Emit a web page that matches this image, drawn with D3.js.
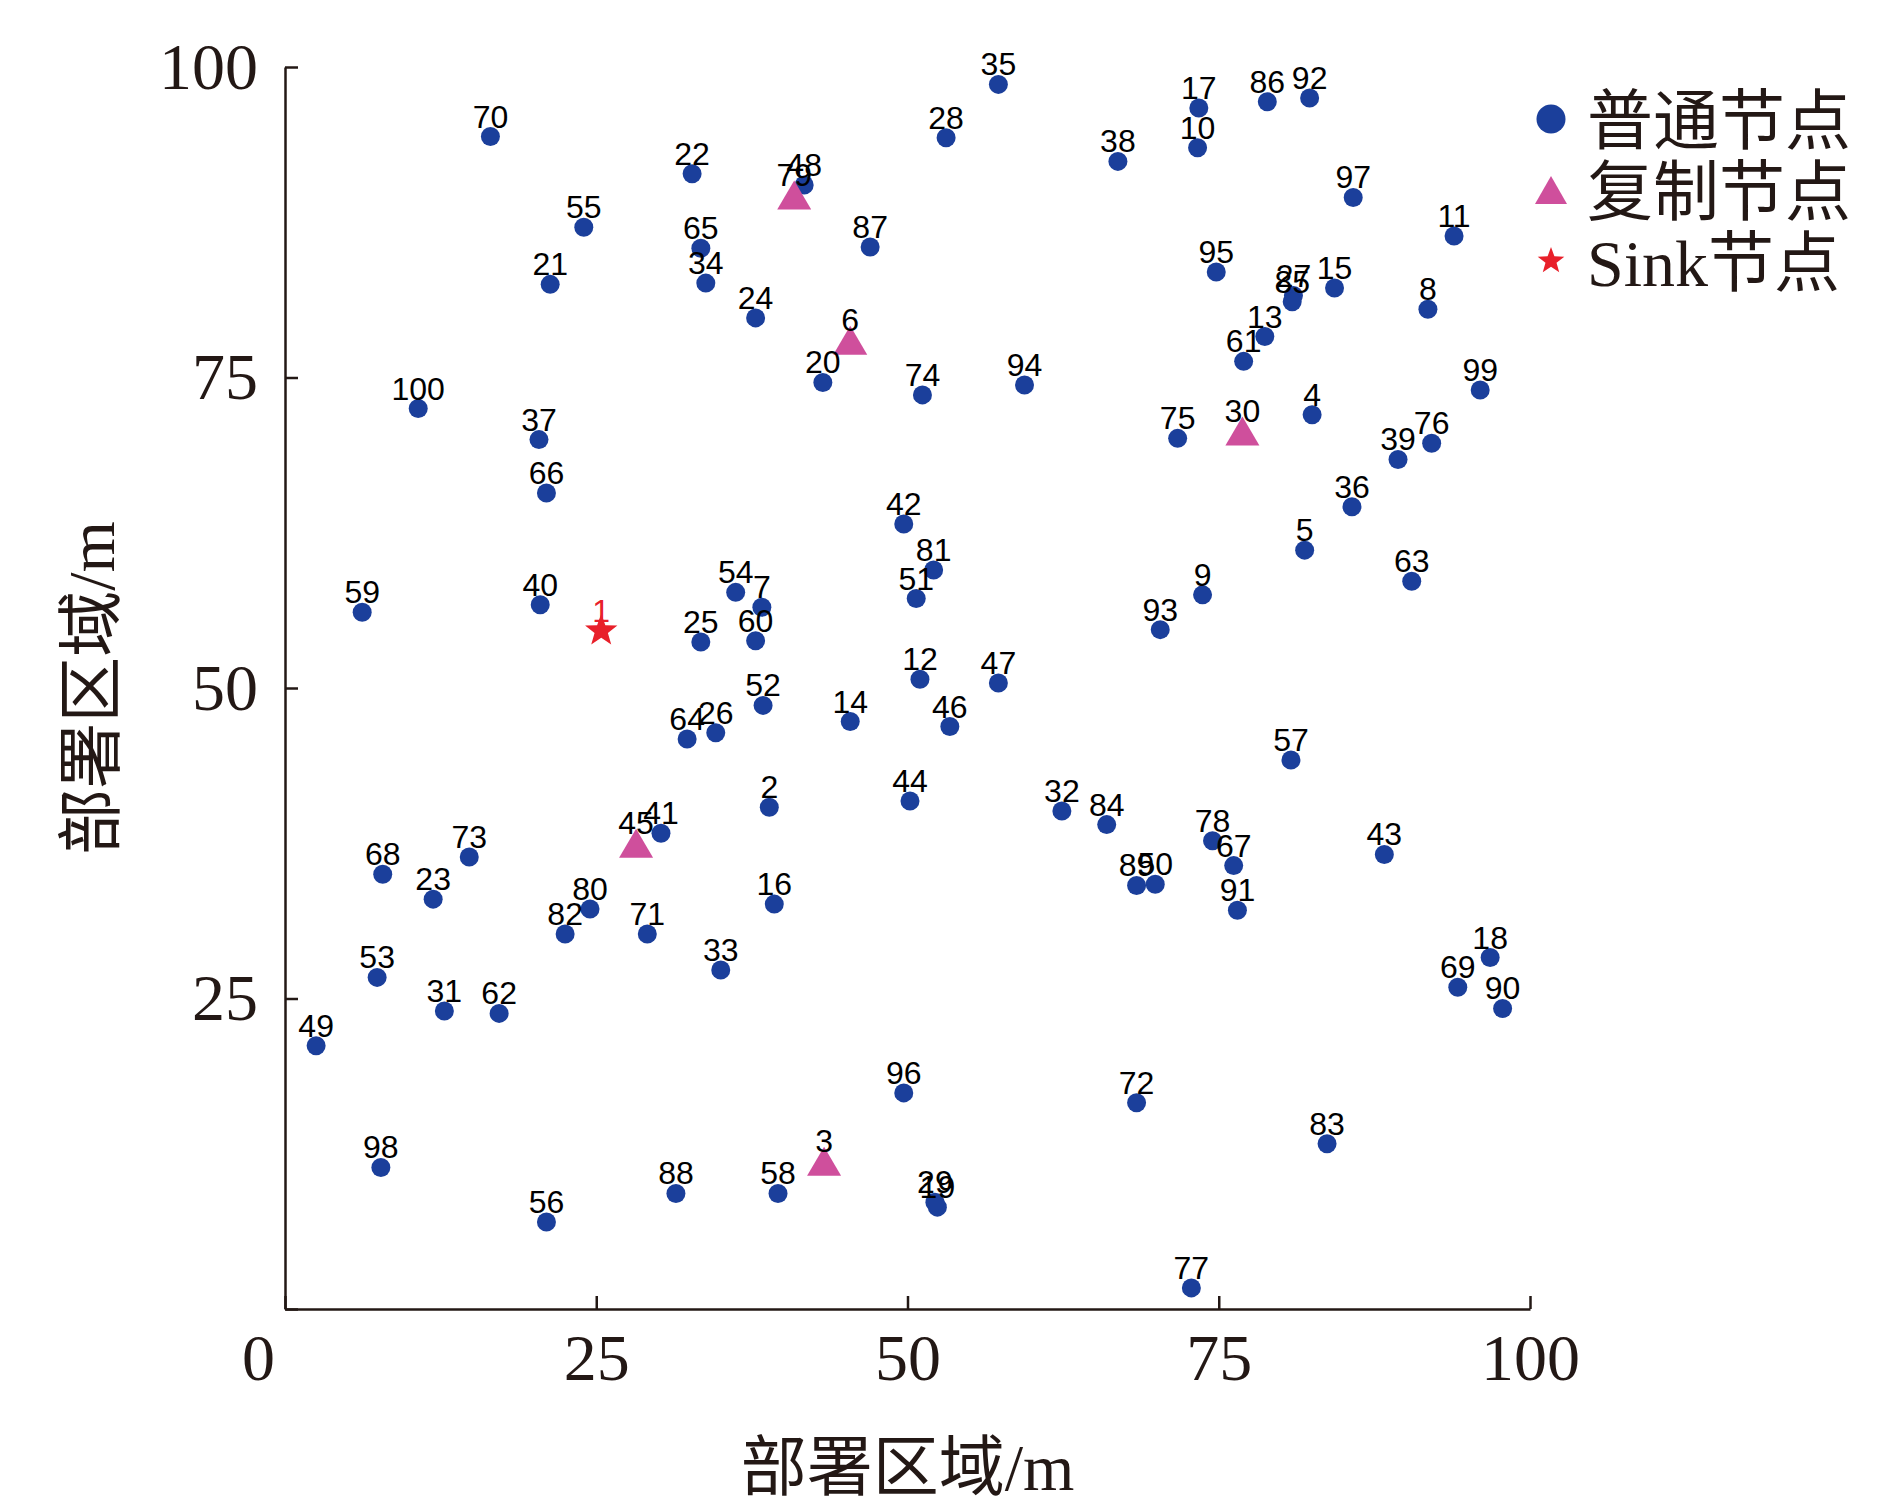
<!DOCTYPE html>
<html>
<head>
<meta charset="utf-8">
<script src="https://cdn.jsdelivr.net/npm/d3@7"></script>
<style>
    body { margin: 0; background: #fff; }
    svg { display: block; }
</style>
</head>
<body>
<div id="chart"></div>
<script>
// Ordinary nodes (普通节点): id, x, y in metres
const normalIds = [2, 4, 5, 7, 8, 9, 10, 11, 12, 13, 14, 15, 16, 17, 18, 19, 20, 21, 22, 23,
    24, 25, 26, 27, 28, 29, 31, 32, 33, 34, 35, 36, 37, 38, 39, 40, 41, 42, 43, 44,
    46, 47, 48, 49, 50, 51, 52, 53, 54, 55, 56, 57, 58, 59, 60, 61, 62, 63, 64, 65,
    66, 67, 68, 69, 70, 71, 72, 73, 74, 75, 76, 77, 78, 80, 81, 82, 83, 84, 85, 86,
    87, 88, 89, 90, 91, 92, 93, 94, 95, 96, 97, 98, 99, 100];
const normalX = [38.9, 82.5, 81.9, 38.3, 91.8, 73.7, 73.3, 93.9, 51.0, 78.7, 45.4, 84.3, 39.3, 73.4, 96.8, 52.4, 43.2, 21.3, 32.7, 11.9,
    37.8, 33.4, 34.6, 81.0, 53.1, 52.2, 12.8, 62.4, 35.0, 33.8, 57.3, 85.7, 20.4, 66.9, 89.4, 20.5, 30.2, 49.7, 88.3, 50.2,
    53.4, 57.3, 41.7, 2.5, 69.9, 50.7, 38.4, 7.4, 36.2, 24.0, 21.0, 80.8, 39.6, 6.2, 37.8, 77.0, 17.2, 90.5, 32.3, 33.4,
    21.0, 76.2, 7.85, 94.2, 16.5, 29.1, 68.4, 14.8, 51.2, 71.7, 92.1, 72.8, 74.5, 24.5, 52.1, 22.5, 83.7, 66.0, 80.9, 78.9,
    47.0, 31.4, 68.4, 97.8, 76.5, 82.3, 70.3, 59.4, 74.8, 49.7, 85.8, 7.7, 96.0, 10.7];
const normalY = [40.4, 72.0, 61.1, 56.5, 80.5, 57.5, 93.5, 86.4, 50.7, 78.3, 47.3, 82.2, 32.6, 96.7, 28.3, 8.2, 74.6, 82.5, 91.4, 33.0,
    79.8, 53.7, 46.4, 81.6, 94.3, 8.6, 24.0, 40.1, 27.3, 82.6, 98.6, 64.6, 70.0, 92.4, 68.4, 56.7, 38.3, 63.2, 36.6, 40.9,
    46.9, 50.4, 90.5, 21.2, 34.2, 57.2, 48.6, 26.7, 57.7, 87.1, 7.0, 44.2, 9.3, 56.1, 53.8, 76.3, 23.8, 58.6, 45.9, 85.4,
    65.7, 35.7, 35.0, 25.9, 94.4, 30.2, 16.6, 36.4, 73.6, 70.1, 69.7, 1.7, 37.7, 32.2, 59.5, 30.2, 13.3, 39.0, 81.1, 97.2,
    85.5, 9.3, 34.1, 24.2, 32.1, 97.5, 54.7, 74.4, 83.5, 17.4, 89.5, 11.4, 74.0, 72.5];

// Replica nodes (复制节点)
const replicaIds = [3, 6, 30, 45, 79];
const replicaX = [43.3, 45.4, 76.9, 28.2, 40.9];
const replicaY = [11.9, 78.0, 70.7, 37.5, 89.7];

// Sink node
const sinkIds = [1];
const sinkX = [25.4];
const sinkY = [54.6];

const tickValues = [0, 25, 50, 75, 100];
const legendLabels = ['普通节点', '复制节点', 'Sink节点'];
const axisTitle = '部署区域/m';

const COLORS = { normal: '#1b3f9b', replica: '#cf4f9c', sink: '#e8202a', ink: '#231815' };
const SERIF = '"Liberation Serif", "Times New Roman", "Noto Sans CJK SC", serif';
const SANS = '"Liberation Sans", Arial, sans-serif';

const width = 1891, height = 1509;
const plot = { left: 285, right: 1530, top: 67, bottom: 1309 };

const zip = (ids, xs, ys) => ids.map((id, i) => ({ id, x: xs[i], y: ys[i] }));
const normalNodes = zip(normalIds, normalX, normalY);
const replicaNodes = zip(replicaIds, replicaX, replicaY);
const sinkNodes = zip(sinkIds, sinkX, sinkY);

function trianglePath(w, h) {
    return `M0,${-h / 2}L${w / 2},${h / 2}L${-w / 2},${h / 2}Z`;
}

function starPath(outer, inner) {
    const pts = d3.range(10).map(i => {
        const a = -Math.PI / 2 + i * Math.PI / 5;
        const r = i % 2 ? inner : outer;
        return [r * Math.cos(a), r * Math.sin(a)];
    });
    return 'M' + pts.map(p => p.join(',')).join('L') + 'Z';
}

const svg = d3.select('#chart')
    .append('svg')
    .attr('width', width)
    .attr('height', height);

svg.append('rect').attr('width', width).attr('height', height).attr('fill', '#fff');

const xScale = d3.scaleLinear().domain([0, 100]).range([plot.left, plot.right]);
const yScale = d3.scaleLinear().domain([0, 100]).range([plot.bottom, plot.top]);

// Axes with inward ticks; the shared origin "0" is only shown once, under the corner
const xAxis = svg.append('g')
    .attr('transform', `translate(0,${plot.bottom})`)
    .call(d3.axisBottom(xScale).tickValues(tickValues).tickSizeInner(-13).tickSizeOuter(0).tickPadding(24));

const yAxis = svg.append('g')
    .attr('transform', `translate(${plot.left},0)`)
    .call(d3.axisLeft(yScale).tickValues(tickValues)
        .tickFormat(d => d === 0 ? '' : d)
        .tickSizeInner(-13).tickSizeOuter(0).tickPadding(27));

[xAxis, yAxis].forEach(g => {
    g.selectAll('path, line').attr('stroke', COLORS.ink).attr('stroke-width', 2.5);
    g.selectAll('text')
        .attr('fill', COLORS.ink)
        .attr('font-family', SERIF)
        .attr('font-size', 66);
});

xAxis.selectAll('.tick text')
    .attr('dx', d => d === 0 ? -27 : 0);

// Axis titles
svg.append('text')
    .attr('x', (plot.left + plot.right) / 2)
    .attr('y', 1467)
    .attr('text-anchor', 'middle')
    .attr('dominant-baseline', 'central')
    .attr('font-family', SERIF)
    .attr('font-size', 66)
    .attr('fill', COLORS.ink)
    .text(axisTitle);

svg.append('text')
    .attr('transform', `translate(91,${(plot.top + plot.bottom) / 2}) rotate(-90)`)
    .attr('text-anchor', 'middle')
    .attr('dominant-baseline', 'central')
    .attr('font-family', SERIF)
    .attr('font-size', 66)
    .attr('fill', COLORS.ink)
    .text(axisTitle);

// Markers
const marks = svg.append('g');

marks.selectAll('.normal')
    .data(normalNodes)
    .enter()
    .append('circle')
    .attr('class', 'normal')
    .attr('cx', d => xScale(d.x))
    .attr('cy', d => yScale(d.y))
    .attr('r', 9.5)
    .attr('fill', COLORS.normal);

marks.selectAll('.replica')
    .data(replicaNodes)
    .enter()
    .append('path')
    .attr('class', 'replica')
    .attr('d', trianglePath(34, 29))
    .attr('transform', d => `translate(${xScale(d.x)},${yScale(d.y)})`)
    .attr('fill', COLORS.replica);

marks.selectAll('.sink')
    .data(sinkNodes)
    .enter()
    .append('path')
    .attr('class', 'sink')
    .attr('d', starPath(17, 7))
    .attr('transform', d => `translate(${xScale(d.x)},${yScale(d.y)})`)
    .attr('fill', COLORS.sink);

// Node number labels (some overlap in the original too)
const allNodes = normalNodes.map(d => ({ ...d, color: '#000' }))
    .concat(replicaNodes.map(d => ({ ...d, color: '#000' })))
    .concat(sinkNodes.map(d => ({ ...d, color: COLORS.sink })));

svg.append('g').selectAll('text')
    .data(allNodes)
    .enter()
    .append('text')
    .attr('x', d => xScale(d.x))
    .attr('y', d => yScale(d.y) - 9)
    .attr('text-anchor', 'middle')
    .attr('font-family', SANS)
    .attr('font-size', 32)
    .attr('fill', d => d.color)
    .text(d => d.id);

// Legend
const legendRows = [
    { label: legendLabels[0], y: 119, draw: g => g.append('circle').attr('r', 14.5).attr('fill', COLORS.normal) },
    { label: legendLabels[1], y: 190, draw: g => g.append('path').attr('d', trianglePath(32, 28)).attr('fill', COLORS.replica) },
    { label: legendLabels[2], y: 261, draw: g => g.append('path').attr('d', starPath(14, 5.8)).attr('fill', COLORS.sink) }
];

const legend = svg.append('g');
legendRows.forEach(row => {
    const sym = legend.append('g').attr('transform', `translate(1551,${row.y})`);
    row.draw(sym);
    legend.append('text')
        .attr('x', 1587)
        .attr('y', row.y + 2)
        .attr('dominant-baseline', 'central')
        .attr('font-family', SERIF)
        .attr('font-size', 66)
        .attr('fill', COLORS.ink)
        .text(row.label);
});
</script>
</body>
</html>
